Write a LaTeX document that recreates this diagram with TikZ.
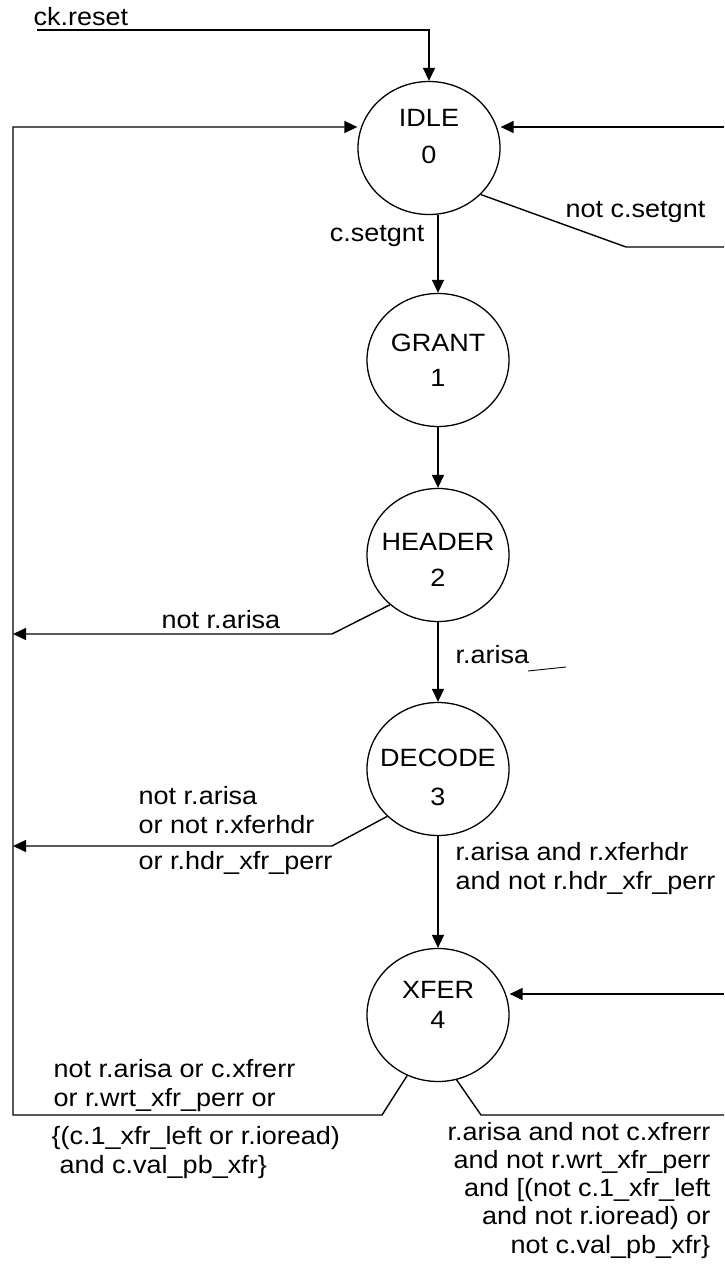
\documentclass[tikz,border=0pt]{standalone}
\usepackage{fontspec}
\setmainfont{Liberation Sans}[FakeStretch=1.08]
\usetikzlibrary{arrows.meta,shapes.geometric}

% fonts for state names and transition conditions
\newcommand\lblfont{\fontsize{25}{28.2}\selectfont}
\newcommand\statefont{\fontsize{25}{28}\selectfont}

\begin{document}
\begin{tikzpicture}[x=1pt,y=-1pt,line width=1.4pt,
  state/.style={draw,ellipse,line width=1.3pt,minimum width=142pt,minimum height=133pt,inner sep=0pt},
  stname/.style={align=center,font=\statefont,inner sep=0pt},
  lbl/.style={font=\lblfont,inner sep=0pt},
  arr/.style={-{Triangle[length=13pt,width=12pt]}}]
\useasboundingbox (0,0) rectangle (724,1265);

% states
\node[state] (idle)   at (429,148)  {};
\node[state] (grant)  at (438,360)  {};
\node[state] (header) at (438,555)  {};
\node[state] (decode) at (438,769)  {};
\node[state] (xfer)   at (438,1015) {};

\node[stname] (idlet)   at (429,137)  {IDLE\\[9pt]0};
\node[stname] (grantt)  at (438,360)  {GRANT\\[7pt]1};
\node[stname] (headert) at (438,560)  {HEADER\\[8pt]2};
\node[stname] (decodet) at (438,777)  {DECODE\\[11pt]3};
\node[stname] (xfert)   at (438,1005) {XFER\\[2pt]4};

% helper points of the routed connectors
\coordinate (rst)  at (37,30);
\coordinate (lTop) at (13,127);
\coordinate (lBot) at (13,1115);
\coordinate (hl)   at (13,634);
\coordinate (hk)   at (332,634);
\coordinate (dl)   at (13,846);
\coordinate (dk)   at (332,846);
\coordinate (xl)   at (382,1115);
\coordinate (xr)   at (481,1115);
\coordinate (rIn0) at (724,127);
\coordinate (ik)   at (626,247);
\coordinate (rOut0) at (724,247);
\coordinate (rIn4) at (724,994);
\coordinate (rOut4) at (724,1115);

% reset
\draw[arr] (rst) -- (rst -| idle.north) -- (idle.north);

% main chain
\draw[arr] (idle.south -| grant.north) -- (grant.north);
\draw[arr] (grant.south) -- (header.north);
\draw[arr] (header.south) -- (decode.north);
\draw[arr] (decode.south) -- (xfer.north);

% returns to IDLE on the left
\draw[arr] (xfer.243) -- (xl) -- (lBot) -- (lTop) -- (idle.west |- lTop);
\draw[arr] (header.226) -- (hk) -- (hl);
\draw[arr] (decode.223) -- (dk) -- (dl);

% loops on the right
\draw (idle.-42) -- (ik) -- (rOut0);
\draw[arr] (rIn0) -- (idle.east |- rIn0);
\draw (xfer.-74) -- (xr) -- (rOut4);
\draw[arr] (rIn4) -- (xfer.east |- rIn4);

% conditions (multi-line ones are placed by the baseline of their last line)
\node[lbl,anchor=base west] (lreset) at (33,26) {ck.reset};
\node[lbl,anchor=base east] (lset) at (425,242) {c.setgnt};
\node[lbl,anchor=base west] (lnset) at (565,218) {not c.setgnt};
\node[lbl,anchor=base west] (lnar) at (161,628) {not r.arisa};
\node[lbl,anchor=base west] (lar) at (455,663) {r.arisa};
\draw[line width=0.9pt] (528,671) -- (566,667);

\node[lbl,anchor=base west,align=left] (ldec1) at (138,833) {not r.arisa\\or not r.xferhdr};
\node[lbl,anchor=base west] (ldec2) at (138,869) {or r.hdr\_xfr\_perr};
\node[lbl,anchor=base west,align=left] (ldec3) at (455,889) {r.arisa and r.xferhdr\\and not r.hdr\_xfr\_perr};

\node[lbl,anchor=base west,align=left] (lx1) at (53,1106) {not r.arisa or c.xfrerr\\or r.wrt\_xfr\_perr or};
\node[lbl,anchor=base west,align=left] (lx2) at (51,1173) {\{(c.1\_xfr\_left or r.ioread)\\\hspace*{8pt}and c.val\_pb\_xfr\}};
\node[lbl,anchor=base east,align=right] (lx3) at (711,1253) {r.arisa and not c.xfrerr\\and not r.wrt\_xfr\_perr\\and [(not c.1\_xfr\_left\\and not r.ioread) or\\not c.val\_pb\_xfr\}};
\end{tikzpicture}
\end{document}
